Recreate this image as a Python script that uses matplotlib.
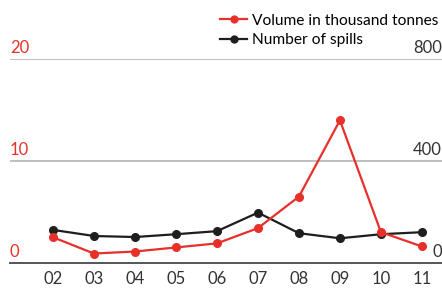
import matplotlib
matplotlib.use('Agg')
import matplotlib.pyplot as plt

# Data
years = ["02", "03", "04", "05", "06", "07", "08", "09", "10", "11"]
volume = [2.5, 0.9, 1.1, 1.5, 1.9, 3.4, 6.5, 14.0, 3.0, 1.6]
spills = [129, 105, 101, 112, 124, 197, 116, 96, 112, 120]
left_ticks = [0, 10, 20]
right_ticks = [0, 400, 800]

red = "#e8302a"
black = "#1e1e1e"
grey_text = "#333333"

plt.rcParams['font.family'] = ['Lato', 'DejaVu Sans']

fig = plt.figure(figsize=(4.42, 2.89), dpi=100)
ax = fig.add_axes([10 / 442, 26.3 / 289, 432 / 442, 203.4 / 289])
ax2 = ax.twinx()

x = list(range(len(years)))
ax.set_xlim(-1.05, 9.49)
ax.set_ylim(0, 20)
ax2.set_ylim(0, 800)

# gridlines
for v in left_ticks[1:]:
    ax.axhline(v, color="#b4b4b4", lw=1.2, zorder=0)
ax.axhline(0, color="#555555", lw=1.4, zorder=0, clip_on=False)

l2, = ax2.plot(x, spills, color=black, lw=1.6, marker="o", ms=5.5, label="Number of spills", zorder=3)
l1, = ax.plot(x, volume, color=red, lw=1.6, marker="o", ms=5.5, label="Volume in thousand tonnes", zorder=3)
ax.set_zorder(ax2.get_zorder() + 1)
ax.patch.set_visible(False)

for a in (ax, ax2):
    for s in a.spines.values():
        s.set_visible(False)
    a.set_yticks([])

ax.set_xticks(x)
ax.set_xticklabels(years, fontsize=12, color=grey_text)
ax.tick_params(axis="x", length=0, pad=6)

# axis labels sit just above their gridline
for v in left_ticks:
    ax.text(-1.05, v + 0.3, str(v), color=red, fontsize=12, ha="left", va="bottom")
for v in right_ticks:
    ax2.text(9.49, v + 12, str(v), color=grey_text, fontsize=12, ha="right", va="bottom")

fig.legend(handles=[l1, l2], loc="upper right", bbox_to_anchor=(1.012, 0.985),
           frameon=False, fontsize=11.2, handlelength=1.7, handletextpad=0.3,
           labelspacing=0.35, borderaxespad=0.2, markerscale=0.9)

fig.savefig("out.png", dpi=100)
